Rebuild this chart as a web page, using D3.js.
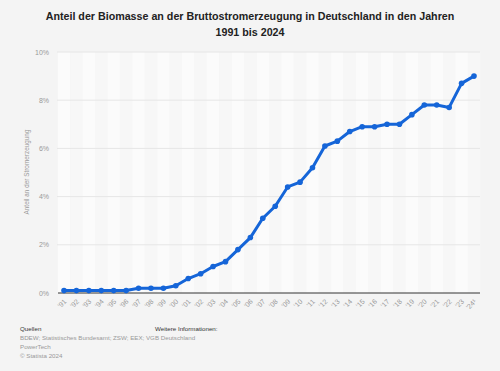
<!DOCTYPE html>
<meta charset="utf-8">
<style>
  body { margin: 0; background: #f4f4f4; }
  svg { font-family: "Liberation Sans", Arial, sans-serif; }
</style>
<script src="https://d3js.org/d3.v7.min.js"></script>
<svg id="chart" width="500" height="371"></svg>
<script>
// data
const years = ["'91","'92","'93","'94","'95","'96","'97","'98","'99","'00","'01","'02","'03","'04","'05","'06","'07","'08","'09","'10","'11","'12","'13","'14","'15","'16","'17","'18","'19","'20","'21","'22","'23","'24¹"];
const share = [0.1,0.1,0.1,0.1,0.1,0.1,0.2,0.2,0.2,0.3,0.6,0.8,1.1,1.3,1.8,2.3,3.1,3.6,4.4,4.6,5.2,6.1,6.3,6.7,6.9,6.9,7.0,7.0,7.4,7.8,7.8,7.7,8.7,9.0];
const yTicks = [0, 2, 4, 6, 8, 10];

const svg = d3.select("#chart");

svg.append("rect").attr("width", 500).attr("height", 371).attr("fill", "#f4f4f4");

// title
svg.append("text")
  .attr("x", 250).attr("y", 20)
  .attr("text-anchor", "middle")
  .style("font-size", "10.7px").style("font-weight", "bold").style("fill", "#222")
  .text("Anteil der Biomasse an der Bruttostromerzeugung in Deutschland in den Jahren");
svg.append("text")
  .attr("x", 250).attr("y", 36)
  .attr("text-anchor", "middle")
  .style("font-size", "10.7px").style("font-weight", "bold").style("fill", "#222")
  .text("1991 bis 2024");

const x = d3.scalePoint().domain(years).range([64, 474]);
const y = d3.scaleLinear().domain([0, 10]).range([293, 52]);
const step = x.step();

// column stripes
svg.append("g")
  .selectAll("rect")
  .data(years)
  .join("rect")
  .attr("x", d => x(d) - step / 2)
  .attr("y", y(10))
  .attr("width", step)
  .attr("height", y(0) - y(10))
  .attr("fill", (d, i) => i % 2 ? "#f7f7f7" : "#fbfbfb");

// gridlines
svg.append("g")
  .selectAll("line")
  .data(yTicks.filter(d => d > 0))
  .join("line")
  .attr("x1", 57).attr("x2", 480)
  .attr("y1", d => y(d)).attr("y2", d => y(d))
  .attr("stroke", "#e6e6e6").attr("stroke-width", 1);

// y tick labels
svg.append("g")
  .selectAll("text")
  .data(yTicks)
  .join("text")
  .attr("x", 49)
  .attr("y", d => y(d) + 2.5)
  .attr("text-anchor", "end")
  .style("font-size", "7px").style("fill", "#999")
  .text(d => d + "%");

// y axis title
svg.append("text")
  .attr("transform", "translate(29,172) rotate(-90)")
  .attr("text-anchor", "middle")
  .style("font-size", "6.4px").style("fill", "#999")
  .text("Anteil an der Stromerzeugung");

// baseline
svg.append("line")
  .attr("x1", 58).attr("x2", 480)
  .attr("y1", y(0)).attr("y2", y(0))
  .attr("stroke", "#333").attr("stroke-width", 1);

// x tick labels
svg.append("g")
  .selectAll("text")
  .data(years)
  .join("text")
  .attr("transform", d => `translate(${x(d) + 3},${302}) rotate(-45)`)
  .attr("text-anchor", "end")
  .style("font-size", "7px").style("fill", "#999")
  .text(d => d);

// line
const line = d3.line()
  .x((d, i) => x(years[i]))
  .y(d => y(d));

svg.append("path")
  .datum(share)
  .attr("d", line)
  .attr("fill", "none")
  .attr("stroke", "#1565d8")
  .attr("stroke-width", 3)
  .attr("stroke-linejoin", "round");

svg.append("g")
  .selectAll("circle")
  .data(share)
  .join("circle")
  .attr("cx", (d, i) => x(years[i]))
  .attr("cy", d => y(d))
  .attr("r", 2.8)
  .attr("fill", "#1565d8");

// footer
const foot = svg.append("g").style("font-size", "6.2px");
foot.append("text").attr("x", 20).attr("y", 331).style("fill", "#333").text("Quellen");
foot.append("text").attr("x", 155).attr("y", 331).style("fill", "#333").text("Weitere Informationen:");
foot.append("text").attr("x", 20).attr("y", 340).style("fill", "#999").text("BDEW; Statistisches Bundesamt; ZSW; EEX; VGB Deutschland");
foot.append("text").attr("x", 20).attr("y", 349).style("fill", "#999").text("PowerTech");
foot.append("text").attr("x", 20).attr("y", 358).style("fill", "#999").text("© Statista 2024");
</script>
